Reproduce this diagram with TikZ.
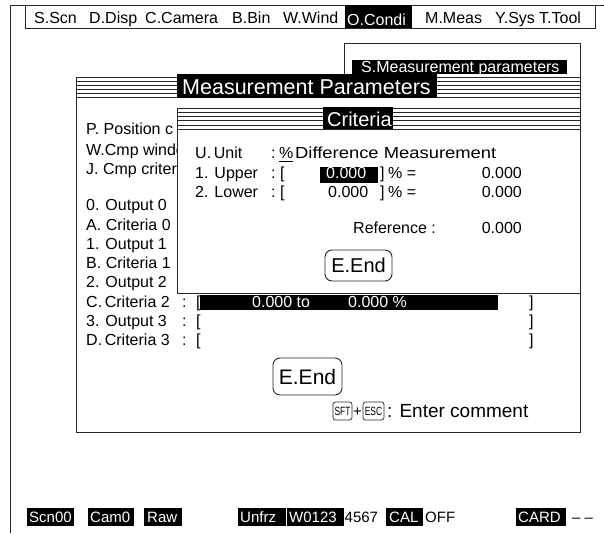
\documentclass[tikz,border=0pt]{standalone}
\usepackage{fontspec}
\setmainfont{Liberation Sans}
\begin{document}
\begin{tikzpicture}[x=1pt,y=-1pt,
  fr/.style={draw=black!85, line width=0.9pt},
  bar/.style={draw=black!85, line width=0.7pt},
  t/.style={anchor=base west, inner sep=0pt, font=\fontsize{16}{19}\selectfont},
  te/.style={anchor=base east, inner sep=0pt, font=\fontsize{16}{19}\selectfont},
  tm/.style={anchor=base west, inner sep=0pt, font=\fontsize{16}{19}\selectfont},
  ts/.style={anchor=base west, inner sep=0pt, font=\fontsize{15}{18}\selectfont},
  wt/.style={text=white},
  btn/.style={draw=black!85, line width=0.9pt, rounded corners=7pt, inner sep=0pt, font=\fontsize{21}{25}\selectfont},
  keycap/.style={draw=black!85, line width=0.7pt, rounded corners=2.5pt, inner sep=0pt, minimum width=19pt, minimum height=18pt, font=\fontsize{12}{13}\selectfont}
]
\useasboundingbox (0,0) rectangle (604,533);
% outer frame
\draw[fr] (10,533) -- (10,5) -- (604,5);
% menu bar
\draw[fr] (25,5) rectangle (595,28);
\fill (345,5) rectangle (412,28);
\node[tm] (m1) at (34,23.5) {S.Scn};
\node[tm] (m2) at (89,23.5) {D.Disp};
\node[tm] (m3) at (145,23.5) {C.Camera};
\node[tm] (m4) at (232,23.5) {B.Bin};
\node[tm] (m5) at (283,23.5) {W.Wind};
\node[tm,wt] (m6) at (347,25) {O.Condi};
\node[tm] (m7) at (425,23.5) {M.Meas};
\node[tm] (m8) at (495,23.5) {Y.Sys};
\node[tm] (m9) at (539,23.5) {T.Tool};
% S.Measurement parameters box
\draw[fr, fill=white] (344,43) rectangle (580,77);
\fill (352,60) rectangle (567,74);
\node[t,wt] (smp) at (361,72.5) {S.Measurement parameters};
% Measurement Parameters window
\draw[fr, fill=white] (76,77) rectangle (580,432);
\foreach \yy in {81,85,89,93,97} \draw[bar] (76,\yy) -- (580,\yy);
\fill (177,74) rectangle (437,97.5);
\node[anchor=base west, inner sep=0pt, font=\fontsize{21.5}{25}\selectfont, wt] (mpt) at (182,94) {Measurement Parameters};
% rows
\node[t] (rp) at (86,134.8) {P. Position c};
\node[t] (rw) at (86,155.3) {W.Cmp window};
\node[t] (rj) at (86,174.3) {J. Cmp criteria};
\node[t] (r0) at (86,210.8) {0. Output 0};
\node[t] (ra) at (86,230) {A. Criteria 0};
\node[t] (r1) at (86,249.3) {1. Output 1};
\node[t] (rb) at (86,268.5) {B. Criteria 1};
\node[t] (r2) at (86,287.8) {2. Output 2};
\node[t] (rc) at (86,307) {C.\,Criteria 2};
\node[t] (r3) at (86,326.3) {3. Output 3};
\node[t] (rd) at (86,345.5) {D.\,Criteria 3};
\fill (200,294.5) rectangle (498,309.5);
\foreach \yy/\nm in {307/c,326.3/t,345.5/d} {
  \node[t] (col\nm) at (182,\yy) {:};
  \node[t] (lb\nm) at (196,\yy) {[};
  \node[t] (rb\nm) at (529,\yy) {]};
}
\node[t,wt] (cv1) at (252,307) {0.000 to};
\node[t,wt] (cv2) at (348,307) {0.000 \%};
% Criteria window
\draw[fr, fill=white] (177,108.5) rectangle (580,293);
\foreach \yy in {112.6,116.7,120.8,124.9,129} \draw[bar] (177,\yy) -- (580,\yy);
\fill (323,107) rectangle (393,128.5);
\node[anchor=base west, inner sep=0pt, font=\fontsize{20}{24}\selectfont, wt] (crt) at (327,126) {Criteria};
\node[t] (cu) at (195,158.8) {U.\,Unit};
\node[t] (cuc) at (271,158.8) {:};
\node[t] (cup) at (279,158.8) {\%};
\draw[line width=0.8pt] (cup.base west) ++(0,2.2) -- ++(14,0);
\node[t] (cud) at (295,158.8) {\scalebox{1.15}[1]{Difference Measurement}};
\node[t] (c1) at (195,178.8) {1. Upper};
\node[t] (c1c) at (271,178.8) {:};
\node[t] (c1b) at (280,178.8) {[};
\fill (320,167) rectangle (378,183);
\node[t,wt] (c1v) at (326,178.8) {0.000};
\node[t] (c1e) at (380,178.8) {]};
\node[t] (c1p) at (388,178.8) {\% =};
\node[te] (c1r) at (522,178.8) {0.000};
\node[t] (c2) at (195,197.8) {2. Lower};
\node[t] (c2c) at (271,197.8) {:};
\node[t] (c2b) at (280,197.8) {[};
\node[t] (c2v) at (328,197.8) {0.000};
\node[t] (c2e) at (380,197.8) {]};
\node[t] (c2p) at (388,197.8) {\% =};
\node[te] (c2r) at (522,197.8) {0.000};
\node[t] (cref) at (353,233.8) {Reference :};
\node[te] (crefv) at (522,233.8) {0.000};
\node[btn, minimum width=67pt, minimum height=31pt, font=\fontsize{20}{24}\selectfont] (cend) at (358.5,265.5) {E.End};
% MP end button and comment
\node[btn, minimum width=69pt, minimum height=37pt] (mend) at (307.5,376.5) {E.End};
\node[keycap] (sft) at (342.5,411) {\scalebox{0.7}[1]{SFT}};
\node[anchor=base, inner sep=0pt, font=\fontsize{15}{18}\selectfont] (plus) at (357.5,416.3) {+};
\node[keycap, minimum width=21pt] (esc) at (373.5,411) {\scalebox{0.7}[1]{ESC}};
\node[anchor=base west, inner sep=0pt, font=\fontsize{19}{22}\selectfont] (cmt) at (387,417.8) {: Enter comment};
% status bar
\fill (27,508) rectangle (74,526);
\fill (88,508) rectangle (134,526);
\fill (144,508) rectangle (182,526);
\fill (238,508) rectangle (286,526);
\fill (287,508) rectangle (344,526);
\fill (386,508) rectangle (423,526);
\fill (516,508) rectangle (566,526);
\node[ts,wt] (s1) at (29,522.4) {Scn00};
\node[ts,wt] (s2) at (90,522.4) {Cam0};
\node[ts,wt] (s3) at (147,522.4) {Raw};
\node[ts,wt] (s4) at (240,522.4) {Unfrz};
\node[ts,wt] (s5) at (289,522.4) {W0123};
\node[ts] (s6) at (344.5,522.4) {4567};
\node[ts,wt] (s7) at (389,522.4) {CAL};
\node[ts] (s8) at (425,522.4) {OFF};
\node[ts,wt] (s9) at (518,522.4) {CARD};
\node[ts] (s10) at (572,522.4) {\textendash\ \textendash};
\end{tikzpicture}
\end{document}
